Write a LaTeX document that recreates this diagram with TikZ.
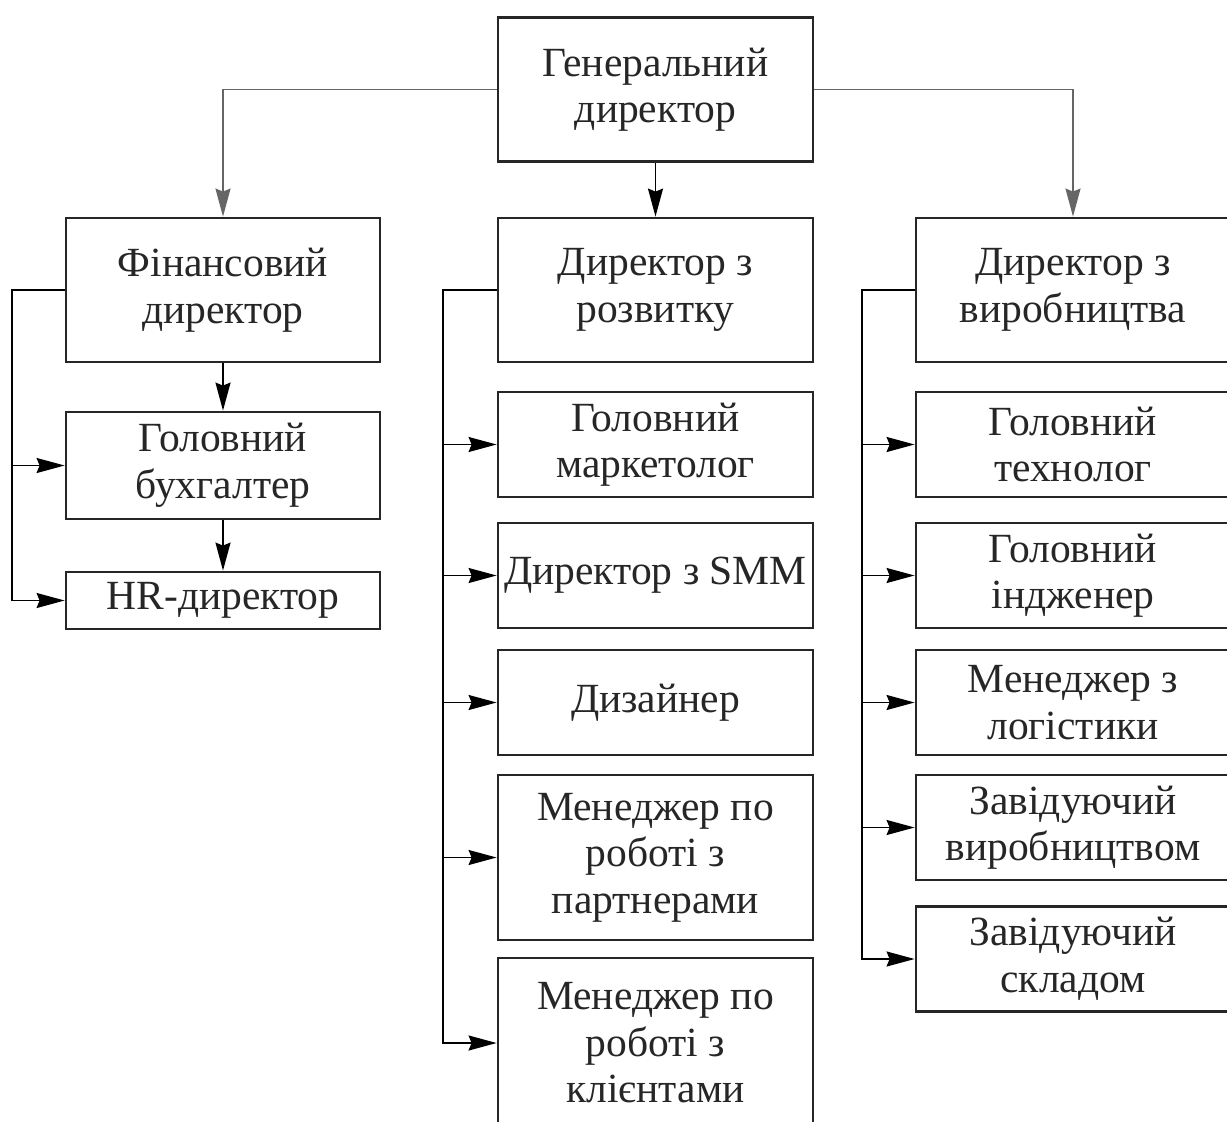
\documentclass[tikz,border=0pt]{standalone}
\usepackage{fontspec}
\setmainfont{Liberation Serif}
\usetikzlibrary{arrows.meta}
\tikzset{
  box/.style={draw=black!85, line width=2.8pt, rectangle, inner sep=0pt, align=center,
    font=\fontsize{41.5}{46.5}\selectfont, text=black!85},
  conn/.style={line width=1.8pt, draw=black},
  gconn/.style={line width=1.8pt, draw=black!60},
  arr/.style={-{Stealth[length=28pt,width=15pt,inset=3pt]}},
}
\begin{document}
\begin{tikzpicture}[x=1pt,y=-1pt]
\useasboundingbox (0,0) rectangle (1227,1122);
\fill[white] (0,0) rectangle (1227,1122);
\begin{scope}
\clip (0,0) rectangle (1227,1122);
% level 0
\node[box, minimum width=315pt, minimum height=144pt] (gd) at (655.5,89.5) {Генеральний\\директор};
% level 1
\node[box, minimum width=314pt, minimum height=144pt] (fin) at (223,290) {Фінансовий\\директор};
\node[box, minimum width=315pt, minimum height=144pt] (roz) at (655.5,290) {Директор з\\розвитку};
\node[box, minimum width=314pt, minimum height=144pt] (vyr) at (1073,290) {Директор з\\виробництва};
% left column
\node[box, minimum width=314pt, minimum height=107pt] (gb) at (223,465.5) {Головний\\бухгалтер};
\node[box, minimum width=314pt, minimum height=57pt] (hr) at (223,600.5) {HR-директор};
% middle column
\node[box, minimum width=315pt, minimum height=105pt] (mark) at (655.5,444.5) {Головний\\маркетолог};
\node[box, minimum width=315pt, minimum height=105pt] (smm) at (655.5,575.5) {Директор з SMM};
\node[box, minimum width=315pt, minimum height=105pt] (diz) at (655.5,702.5) {Дизайнер};
\node[box, minimum width=315pt, minimum height=165pt] (mpart) at (655.5,857.5) {Менеджер по\\роботі з\\партнерами};
\node[box, minimum width=315pt, minimum height=170pt] (mkl) at (655.5,1043) {Менеджер по\\роботі з\\клієнтами};
% right column
\node[box, minimum width=314pt, minimum height=105pt] (tech) at (1073,444.5) {Головний\\технолог};
\node[box, minimum width=314pt, minimum height=105pt] (inzh) at (1073,575.5) {Головний\\індженер};
\node[box, minimum width=314pt, minimum height=105pt] (logi) at (1073,702.5) {Менеджер з\\логістики};
\node[box, minimum width=314pt, minimum height=105pt] (zvyr) at (1073,827.5) {Завідуючий\\виробництвом};
\node[box, minimum width=314pt, minimum height=105pt] (zskl) at (1073,959) {Завідуючий\\складом};
\end{scope}
% top connectors
\draw[gconn, arr] (gd.west) -| (fin.north);
\draw[conn, arr] (gd.south) -- (roz.north);
\draw[gconn, arr] (gd.east) -| (vyr.north);
% left column connectors
\draw[conn, arr] (fin.south) -- (gb.north);
\draw[conn, arr] (gb.south) -- (hr.north);
\coordinate (fl) at (12,290);
\draw[conn, arr] (fin.west) -- (fl) |- (hr.west);
\draw[conn, arr] (fl |- gb.west) -- (gb.west);
% middle column connectors
\coordinate (ml) at (443,290);
\draw[conn, arr] (roz.west) -- (ml) |- (mkl.west);
\draw[conn, arr] (ml |- mark.west) -- (mark.west);
\draw[conn, arr] (ml |- smm.west) -- (smm.west);
\draw[conn, arr] (ml |- diz.west) -- (diz.west);
\draw[conn, arr] (ml |- mpart.west) -- (mpart.west);
% right column connectors
\coordinate (rl) at (862,290);
\draw[conn, arr] (vyr.west) -- (rl) |- (zskl.west);
\draw[conn, arr] (rl |- tech.west) -- (tech.west);
\draw[conn, arr] (rl |- inzh.west) -- (inzh.west);
\draw[conn, arr] (rl |- logi.west) -- (logi.west);
\draw[conn, arr] (rl |- zvyr.west) -- (zvyr.west);
\end{tikzpicture}
\end{document}
